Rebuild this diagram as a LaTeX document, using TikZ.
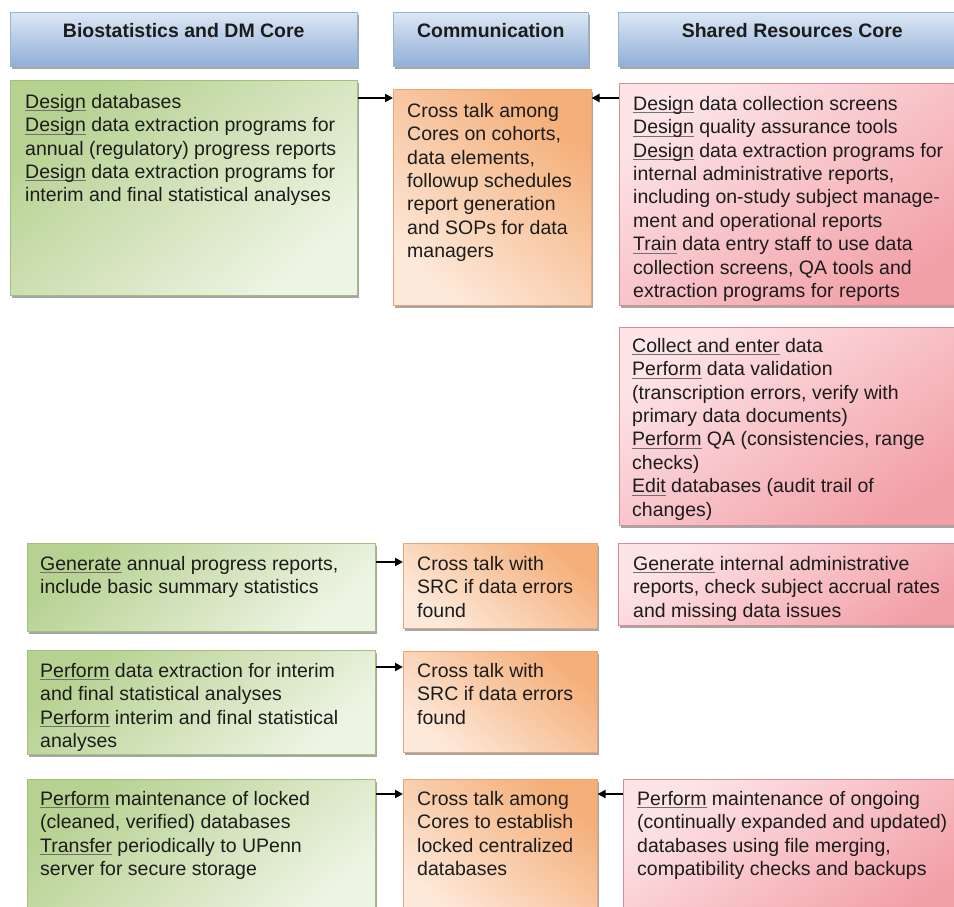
\documentclass[tikz,border=0pt]{standalone}
\usepackage{fontspec}
\setmainfont{Liberation Sans}
\usetikzlibrary{arrows.meta,shadows,calc}
\definecolor{ulc}{HTML}{707070}
\definecolor{txtc}{HTML}{1C1C1C}
\definecolor{hbTop}{HTML}{DCE7F4}
\definecolor{hbMid}{HTML}{B9CEE8}
\definecolor{hbBot}{HTML}{90AFD8}
\definecolor{hbDraw}{HTML}{9BB3D2}
\definecolor{gTop}{HTML}{B6D190}
\definecolor{gBot}{HTML}{EEF4E4}
\definecolor{gDraw}{HTML}{A3C07A}
\definecolor{oTop}{HTML}{F4AE78}
\definecolor{oBot}{HTML}{FDE9DA}
\definecolor{oDraw}{HTML}{EAA678}
\definecolor{rTop}{HTML}{FDE4E6}
\definecolor{rBot}{HTML}{F2A0A8}
\definecolor{rDraw}{HTML}{D98C93}
\newsavebox\myubox
\newcommand\myu[1]{\sbox\myubox{#1}\rlap{\textcolor{ulc}{\rule[-2.8pt]{\wd\myubox}{0.9pt}}}#1}
\newcommand\fs{\fontsize{19.5}{23.4}\selectfont}
\tikzset{
  x=1pt, y=-1pt,
  boxbase/.style={rectangle, inner sep=0pt, anchor=north west, line width=0.6pt,
    drop shadow={shadow xshift=1.2pt, shadow yshift=-2.5pt, fill=black, opacity=0.35}},
  hbox/.style={boxbase, draw=hbDraw, top color=hbTop, middle color=hbMid, bottom color=hbBot},
  gbox/.style={boxbase, draw=gDraw, top color=gTop, bottom color=gBot, shading angle=40},
  obox/.style={boxbase, draw=oDraw, top color=oTop, bottom color=oBot, shading angle=-40},
  rbox/.style={boxbase, draw=rDraw, top color=rTop, bottom color=rBot, shading angle=35},
  txt/.style={font=\fs, text=txtc, align=left, inner sep=0pt, anchor=north west, execute at begin node=\strut},
  htxt/.style={font=\fs\bfseries, text=txtc, inner sep=0pt, anchor=center},
  arr/.style={line width=2pt, -{Triangle[length=8pt,width=8pt]}}
}
\begin{document}
\begin{tikzpicture}
\useasboundingbox (0,0) rectangle (954,907);
\clip (0,0) rectangle (954,907);
% headers
\node[hbox, minimum width=347pt, minimum height=54pt] (h1) at (10,12) {};
\node[hbox, minimum width=195pt, minimum height=54pt] (h2) at (393,12) {};
\node[hbox, minimum width=348pt, minimum height=54pt] (h3) at (618,12) {};
\node[htxt] (h1t) at ($(h1.north)+(0,19)$) {Biostatistics and DM Core};
\node[htxt] (h2t) at ($(h2.north)+(0,19)$) {Communication};
\node[htxt] (h3t) at ($(h3.north)+(0,19)$) {Shared Resources Core};
% boxes
\node[gbox, minimum width=347pt, minimum height=215pt] (g1) at (10,80) {};
\node[obox, minimum width=198pt, minimum height=216pt] (o1) at (393,89) {};
\node[rbox, minimum width=347pt, minimum height=222pt] (r1) at (619,83) {};
\node[rbox, minimum width=347pt, minimum height=198pt] (r2) at (619,327) {};
\node[gbox, minimum width=348pt, minimum height=88pt] (g2) at (27,543) {};
\node[obox, minimum width=194pt, minimum height=85pt] (o2) at (403,543) {};
\node[rbox, minimum width=348pt, minimum height=82pt] (r3) at (618,543) {};
\node[gbox, minimum width=348pt, minimum height=104pt] (g3) at (27,650) {};
\node[obox, minimum width=194pt, minimum height=101pt] (o3) at (403,651) {};
\node[gbox, minimum width=348pt, minimum height=140pt] (g4) at (27,779) {};
\node[obox, minimum width=194pt, minimum height=140pt] (o4) at (403,779) {};
\node[rbox, minimum width=343pt, minimum height=140pt] (r4) at (623,779) {};
% texts
\node[txt] (g1t) at ($(g1.north west)+(15,14)$) {\myu{Design} databases\\
\myu{Design} data extraction programs for\\
annual (regulatory) progress reports\\
\myu{Design} data extraction programs for\\
interim and final statistical analyses};
\node[txt] (o1t) at ($(o1.north west)+(14,14)$) {Cross talk among\\Cores on cohorts,\\data elements,\\followup schedules\\report generation\\and SOPs for data\\managers};
\node[txt] (r1t) at ($(r1.north west)+(14,13)$) {\myu{Design} data collection screens\\
\myu{Design} quality assurance tools\\
\myu{Design} data extraction programs for\\
internal administrative reports,\\
including on-study subject manage-\\
ment and operational reports\\
\myu{Train} data entry staff to use data\\
collection screens, QA tools and\\
extraction programs for reports};
\node[txt] (r2t) at ($(r2.north west)+(13,11)$) {\myu{Collect and enter} data\\
\myu{Perform} data validation\\
(transcription errors, verify with\\
primary data documents)\\
\myu{Perform} QA (consistencies, range\\
checks)\\
\myu{Edit} databases (audit trail of\\
changes)};
\node[txt] (g2t) at ($(g2.north west)+(13,13)$) {\myu{Generate} annual progress reports,\\include basic summary statistics};
\node[txt] (o2t) at ($(o2.north west)+(14,13)$) {Cross talk with\\SRC if data errors\\found};
\node[txt] (r3t) at ($(r3.north west)+(15,13)$) {\myu{Generate} internal administrative\\reports, check subject accrual rates\\and missing data issues};
\node[txt] (g3t) at ($(g3.north west)+(13,13)$) {\myu{Perform} data extraction for interim\\and final statistical analyses\\\myu{Perform} interim and final statistical\\analyses};
\node[txt] (o3t) at ($(o3.north west)+(14,12)$) {Cross talk with\\SRC if data errors\\found};
\node[txt] (g4t) at ($(g4.north west)+(13,12)$) {\myu{Perform} maintenance of locked\\(cleaned, verified) databases\\\myu{Transfer} periodically to UPenn\\server for secure storage};
\node[txt] (o4t) at ($(o4.north west)+(14,12)$) {Cross talk among\\Cores to establish\\locked centralized\\databases};
\node[txt] (r4t) at ($(r4.north west)+(14,12)$) {\myu{Perform} maintenance of ongoing\\(continually expanded and updated)\\databases using file merging,\\compatibility checks and backups};
% arrows
\draw[arr] ($(g1.north east)+(0,18)$) -- ($(o1.north west)+(0,9)$);
\draw[arr] ($(r1.north west)+(0,15)$) -- ($(o1.north east)+(0,9)$);
\draw[arr] ($(g2.north east)+(0,19)$) -- ($(o2.north west)+(0,19)$);
\draw[arr] ($(g3.north east)+(0,17)$) -- ($(o3.north west)+(0,16)$);
\draw[arr] ($(g4.north east)+(0,15)$) -- ($(o4.north west)+(0,15)$);
\draw[arr] ($(r4.north west)+(0,15)$) -- ($(o4.north east)+(0,15)$);
\end{tikzpicture}
\end{document}
